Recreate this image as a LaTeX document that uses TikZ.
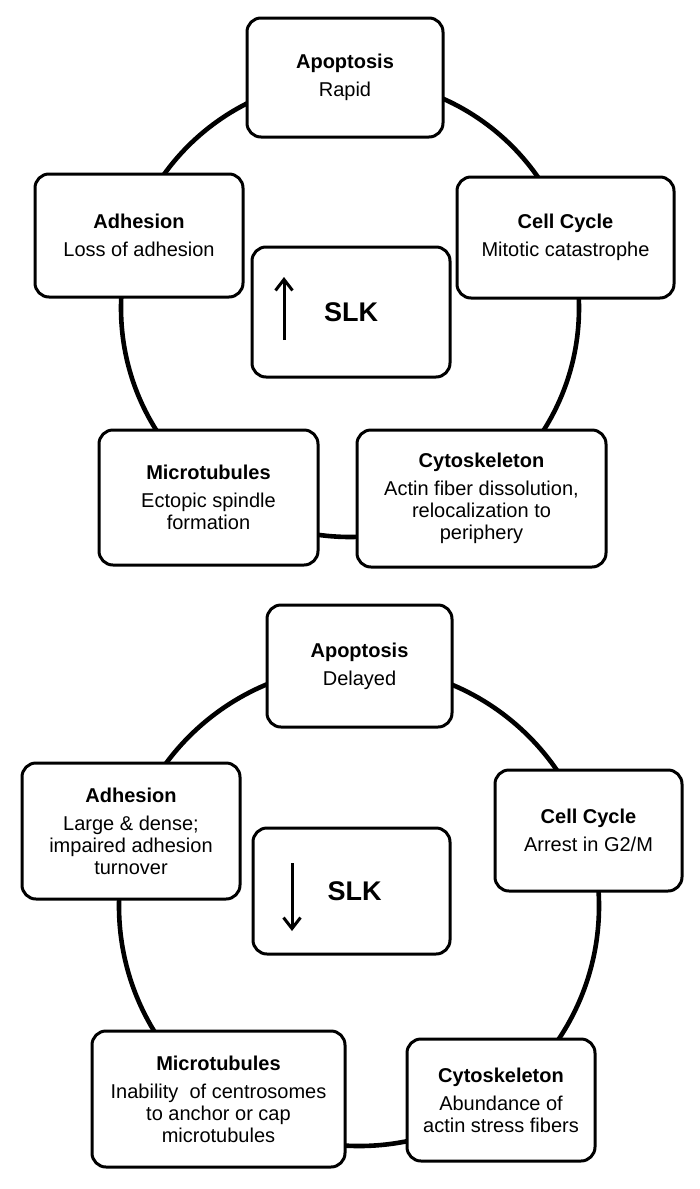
\documentclass[tikz,border=0pt]{standalone}
\usepackage{fontspec}
\setmainfont{Liberation Sans}
\usetikzlibrary{arrows.meta,positioning}

\begin{document}
\begin{tikzpicture}[x=0.5pt,y=-0.5pt,font=\fontsize{10}{11}\selectfont,
 b/.style={draw,line width=1.5pt,rounded corners=7pt,fill=white,align=center,inner sep=2pt},
 ring/.style={draw,circle,line width=2.3pt,inner sep=0pt},
 slk/.style={b,font=\fontsize{13.5}{16}\selectfont\bfseries},
 ar/.style={-{Straight Barb[length=5.5pt,width=8.5pt]},line width=1.5pt}]
\useasboundingbox (0,0) rectangle (700,1189);
% raised SLK
\node[ring,minimum size=229pt] (ringA) at (350,308) {};
\node[b,minimum width=98pt,minimum height=59.5pt] (apoA) at (345,77.5)
 {\textbf{Apoptosis}\\[3pt] Rapid};
\node[b,minimum width=104pt,minimum height=61.5pt] (adhA) at (139,235.5)
 {\textbf{Adhesion}\\[3pt] Loss of adhesion};
\node[b,minimum width=108.5pt,minimum height=60.5pt] (cycA) at (565.5,237.5)
 {\textbf{Cell Cycle}\\[3pt] Mitotic catastrophe};
\node[b,minimum width=109.5pt,minimum height=67.5pt] (micA) at (208.5,497.5)
 {\textbf{Microtubules}\\[3pt] Ectopic spindle\\ formation};
\node[b,minimum width=124.5pt,minimum height=68.5pt] (cytA) at (481.5,498.5)
 {\textbf{Cytoskeleton}\\[3pt] Actin fiber dissolution,\\ relocalization to\\ periphery};
\node[slk,minimum width=99pt,minimum height=65pt] (slkA) at (351,312) {SLK};
\coordinate (upA0) at (284,340);
\coordinate (upA1) at (284,277);
\draw[ar] (upA0) -- (upA1);
% lowered SLK
\node[ring,minimum size=240pt] (ringB) at (359,906) {};
\node[b,minimum width=92.5pt,minimum height=61pt] (apoB) at (359.5,666)
 {\textbf{Apoptosis}\\[3pt] Delayed};
\node[b,minimum width=109pt,minimum height=68pt] (adhB) at (131,831)
 {\textbf{Adhesion}\\[3pt] Large \& dense;\\ impaired adhesion\\ turnover};
\node[b,minimum width=93.5pt,minimum height=60.5pt] (cycB) at (588.5,830.5)
 {\textbf{Cell Cycle}\\[3pt] Arrest in G2/M};
\node[b,minimum width=126.5pt,minimum height=68pt] (micB) at (218.5,1099)
 {\textbf{Microtubules}\\[3pt] Inability\ \ of centrosomes\\ to anchor or cap\\ microtubules};
\node[b,minimum width=94pt,minimum height=61pt] (cytB) at (501,1100)
 {\textbf{Cytoskeleton}\\[3pt] Abundance of\\ actin stress fibers};
\node[slk,minimum width=98.5pt,minimum height=63pt] (slkB) at (351.5,891) {\hspace*{3pt}SLK};
\coordinate (dnB0) at (292,863);
\coordinate (dnB1) at (292,931);
\draw[ar] (dnB0) -- (dnB1);
\end{tikzpicture}
\end{document}
